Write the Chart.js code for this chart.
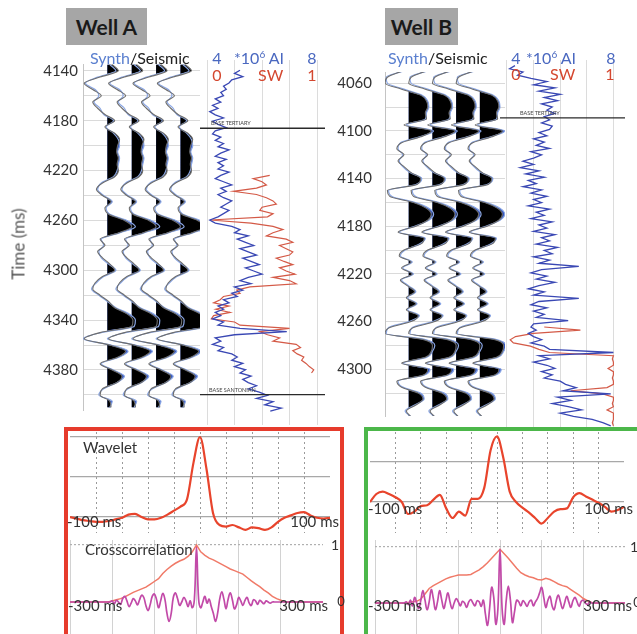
<!DOCTYPE html>
<html>
<head>
<meta charset="utf-8">
<script src="https://cdn.jsdelivr.net/npm/chart.js@4.4.1/dist/chart.umd.min.js"></script>
<style>
  body { margin: 0; width: 637px; height: 634px; overflow: hidden; position: relative; background: #fff; font-family: Lato, "Open Sans", sans-serif; }
  canvas, .txt, .box { position: absolute; }
  .txt { line-height: 1; white-space: nowrap; color: #333; }
  .box { box-sizing: border-box; background: #fff; }
  .well { position: absolute; background: #a6a6a6; font-weight: bold; font-size: 21px; color: #1a1a1a; display: flex; align-items: center; justify-content: center; }
</style>
</head>
<body>
<script>
// ---------- Well A : seismic / synthetic traces (5 ms samples) ----------
const seisStep = 5;
const seisStartA = 4135;
const seismicA = [
  0.2, 0.45, -0.3, -0.95, -0.6, -0.25, -0.6, -0.4, -0.1, 0.3,    // 4135
  -0.1, 0.3, 0.5, 0.42, 0.38, 0.45, 0.4, 0.45, 0.3, -0.2,       // 4185
  -0.45, -0.2, 0.15, -0.1, 0.05, 0.7, 1.0, 0.45, -0.3, -0.1,    // 4235
  -0.4, -0.2, 0.1, 0.3, -0.2, -0.5, -0.6, -0.3, 0.05, 0.3,      // 4285
  0.8, 1.05, 1.0, -0.3, -0.95, 0.1, 0.75, 0.4, -0.3, 0.2,       // 4335
  0.6, 0.4, -0.2, -0.3, 0.1, 0.15                               // 4385
];
const synthA = [
  0.1, 0.35, -0.4, -0.9, -0.5, -0.35, -0.55, -0.3, -0.15, 0.25,
  -0.05, 0.25, 0.45, 0.5, 0.42, 0.5, 0.45, 0.4, 0.25, -0.25,
  -0.4, -0.15, 0.2, -0.05, 0.1, 0.8, 1.15, 0.5, -0.25, -0.15,
  -0.35, -0.25, 0.05, 0.35, -0.15, -0.45, -0.65, -0.35, 0.0, 0.35,
  0.9, 1.15, 1.1, -0.25, -1.0, 0.15, 0.85, 0.45, -0.25, 0.25,
  0.7, 0.4, -0.15, -0.35, 0.2, 0.1
];
const gridTimesA = [4140, 4160, 4180, 4200, 4220, 4240, 4260, 4280, 4300, 4320, 4340, 4360, 4380, 4400];
const tickTimesA = [4140, 4180, 4220, 4260, 4300, 4340, 4380];

// ---------- Well A : logs (2.5 ms samples) ----------
const logStep = 2.5;
const aiStartA = 4142.5;
const aiA = [
  5.2, 5.0, 5.3, 4.9, 4.8, 4.6, 4.7, 4.5, 4.6, 4.3,
  4.5, 4.2, 4.4, 4.1, 4.3, 4.6, 4.2, 4.4, 4.7, 4.3,
  4.2, 4.5, 4.3, 4.6, 4.4, 4.8, 4.5, 4.3, 4.7, 4.4,
  4.6, 4.4, 4.8, 4.5, 4.3, 4.6, 4.9, 4.5, 4.7, 4.4,
  4.6, 4.9, 4.7, 4.5, 4.8, 4.6, 4.4, 4.1, 4.3, 4.9,
  5.2, 5.0, 5.5, 5.1, 5.4, 5.7, 5.2, 5.5, 5.8, 5.3,
  5.6, 5.9, 5.4, 5.7, 6.0, 5.5, 5.2, 5.6, 5.0, 5.3,
  4.9, 5.1, 4.6, 4.8, 4.4, 4.6, 4.3, 4.5, 4.2, 4.6,
  4.4, 5.2, 6.9, 5.0, 4.3, 4.5, 4.2, 4.6, 4.4, 4.9,
  5.1, 4.9, 5.3, 5.0, 5.4, 5.2, 5.6, 5.3, 5.5, 5.8,
  5.5, 5.9, 6.2, 5.8, 6.4, 6.1, 6.7, 6.3
];
const swStartA = 4225;
const swA = [
  0.57, 0.42, 0.5, 0.54, 0.45, 0.24, 0.45, 0.54, 0.6, 0.63,
  0.5, 0.48, 0.6, 0.55, 0.03, 0.4, 0.6, 0.69, 0.6, 0.54,
  0.72, 0.78, 0.66, 0.72, 0.78, 0.75, 0.63, 0.7, 0.78, 0.66,
  0.72, 0.8, 0.6, 0.75, 0.81, 0.39, 0.27, 0.3, 0.15, 0.12,
  0.06, 0.2, 0.08, 0.21, 0.06, 0.04, 0.25, 0.3, 0.75, 0.48,
  0.55, 0.66, 0.6, 0.81, 0.85, 0.78, 0.82, 0.88, 0.86, 0.9,
  0.93, 0.97, 0.95
];
const topsA = [4188, 4397];
const topNamesA = ['BASE TERTIARY', 'BASE SANTONIAN'];

// ---------- Well B : seismic / synthetic traces ----------
const seisStartB = 4050;
const seismicB = [
  -0.3, -0.9, -1.0, -0.3, 0.5, 0.75, 0.8, 0.7, 0.75, -0.2,     // 4050
  0.95, 0.5, -0.3, -0.5, -0.2, -0.45, -0.2, 0.1, 0.5, 0.35,    // 4100
  -0.9, -0.8, 0.2, 0.75, 0.95, 0.8, 0.3, -0.45, 0.65, 0.5,     // 4150
  -0.2, -0.4, 0.1, -0.3, 0.15, -0.35, -0.05, 0.25, -0.1, 0.3,  // 4200
  -0.1, 0.4, 0.1, -0.8, -1.0, 0.6, 1.0, 0.95, 0.7, -0.3,       // 4250
  0.8, 0.6, -0.5, -0.3, 0.4, 0.6, 0.3, -0.1, 0.1               // 4300
];
const synthB = [
  -0.25, -0.95, -0.9, -0.2, 0.55, 0.8, 0.85, 0.75, 0.7, -0.1,
  1.05, 0.45, -0.35, -0.45, -0.25, -0.4, -0.25, 0.05, 0.55, 0.3,
  -0.85, -0.7, 0.25, 0.85, 1.05, 0.85, 0.25, -0.4, 0.7, 0.45,
  -0.15, -0.35, 0.15, -0.25, 0.2, -0.3, 0.0, 0.3, -0.05, 0.35,
  -0.05, 0.45, 0.0, -0.85, -0.95, 0.7, 1.1, 1.0, 0.75, -0.25,
  0.9, 0.65, -0.45, -0.25, 0.5, 0.65, 0.25, -0.15, 0.1
];
const gridTimesB = [4060, 4080, 4100, 4120, 4140, 4160, 4180, 4200, 4220, 4240, 4260, 4280, 4300, 4320];
const tickTimesB = [4060, 4100, 4140, 4180, 4220, 4260, 4300];

// ---------- Well B : logs ----------
const aiStartB = 4055;
const aiB = [
  4.3, 4.1, 4.6, 4.4, 4.9, 5.5, 5.0, 5.8, 5.2, 6.0,
  5.4, 5.9, 5.3, 5.7, 5.5, 5.8, 5.4, 5.6, 5.3, 5.7,
  5.6, 5.2, 5.5, 5.0, 5.4, 5.1, 5.6, 4.9, 5.3, 5.0,
  4.6, 5.0, 4.5, 5.2, 4.7, 5.4, 4.8, 5.1, 4.6, 5.3,
  4.9, 5.5, 5.0, 5.3, 4.8, 5.6, 5.1, 5.4, 4.9, 5.7,
  5.2, 5.5, 5.0, 5.8, 5.3, 5.6, 5.1, 5.9, 5.4, 5.7,
  5.0, 5.6, 5.2, 6.7, 5.3, 4.9, 5.5, 5.1, 5.8, 5.2,
  4.8, 5.4, 5.0, 6.7, 5.2, 4.9, 5.5, 5.0, 5.4, 5.1,
  6.3, 5.0, 4.9, 5.1, 4.8, 5.0, 5.3, 4.9, 5.4, 5.6,
  8.0, 5.2, 5.6, 5.0, 5.5, 5.8, 5.3, 5.7, 5.4, 6.0,
  6.2, 6.6, 6.1, 7.9, 5.9, 6.4, 5.7, 6.3, 6.8, 6.0,
  6.5, 7.2, 7.6, 7.9
];
const swStartB = 4260;
const swB = [
  0.35, 0.69, 0.25, 0.08, 0.03, 0.06, 0.22, 0.3, 0.4, 1.0,
  0.99, 1.0, 1.0, 0.95, 1.0, 1.0, 0.99, 1.0, 1.0, 0.94,
  0.6, 0.9, 1.0, 1.0, 0.99, 1.0, 0.94, 1.0, 1.0, 1.0,
  0.99, 1.0
];
const topsB = [4096];
const topNamesB = ['BASE TERTIARY'];

// trace positions (in trace-spacing units)
const traceBase = [1, 2, 3, 4];

// ---------- Wavelets (5 ms samples, -100..100 ms) ----------
const waveLag0 = -100, waveStep = 5;
const waveletA = [
  0.0, -0.02, -0.04, -0.05, -0.06, -0.06, -0.05, -0.03, -0.01, 0.03,
  0.04, 0.0, -0.03, -0.03, -0.01, 0.03, 0.08, 0.13, 0.22, 0.68,
  1.0, 0.6, 0.05, -0.1, -0.12, -0.1, -0.13, -0.16, -0.13, -0.14,
  -0.16, -0.13, -0.06, -0.01, 0.02, 0.05, 0.06, 0.02, -0.01, -0.02,
  -0.01
];
const waveletB = [
  0.0, 0.1, 0.13, 0.1, 0.06, 0.0, -0.15, -0.12, -0.05, -0.04,
  0.03, 0.09, -0.08, -0.2, -0.12, -0.17, 0.04, 0.04, 0.18, 0.65,
  0.82, 0.55, 0.13, 0.0, -0.07, -0.13, -0.2, -0.27, -0.2, -0.12,
  -0.09, -0.08, 0.06, 0.11, 0.07, 0.03, -0.01, -0.06, -0.12, -0.1,
  -0.06
];

// ---------- Crosscorrelation (-300..300 ms) ----------
const envLag0 = -300, envStep = 10;
const envelopeA = [
  0, 0, 0, 0, 0, 0, 0, 0, 0, 0,
  0.02, 0.04, 0.06, 0.09, 0.13, 0.17, 0.2, 0.23, 0.26, 0.31,
  0.36, 0.41, 0.5, 0.57, 0.63, 0.68, 0.72, 0.75, 0.8, 0.88,
  1.0, 0.88, 0.82, 0.77, 0.74, 0.7, 0.66, 0.62, 0.58, 0.55,
  0.52, 0.49, 0.43, 0.37, 0.32, 0.27, 0.21, 0.16, 0.1, 0.06,
  0.03, 0, 0, 0, 0, 0, 0, 0, 0, 0,
  0
];
const envelopeB = [
  0, 0, 0, 0, 0, 0, 0, 0, 0.01, 0.02,
  0.03, 0.07, 0.16, 0.26, 0.31, 0.35, 0.39, 0.43, 0.46, 0.48,
  0.5, 0.5, 0.5, 0.51, 0.55, 0.59, 0.65, 0.72, 0.8, 0.88,
  0.96, 0.88, 0.8, 0.71, 0.62, 0.54, 0.5, 0.47, 0.45, 0.42,
  0.41, 0.44, 0.42, 0.38, 0.34, 0.31, 0.29, 0.24, 0.19, 0.14,
  0.08, 0.04, 0.01, 0, 0, 0, 0, 0, 0, 0,
  0
];
const ccLag0 = -300, ccStep = 5;
const crossA = [
  0, 0, 0, 0, 0, 0, 0, 0, 0, 0,
  0, 0, 0, 0, 0, 0, 0, 0, 0, 0,
  0.02, -0.03, 0.03, 0.0, -0.04, 0.06, 0.1, 0.02, -0.08, -0.02,
  0.06, 0.02, -0.05, 0.04, 0.12, 0.08, -0.06, -0.15, -0.05, 0.1,
  0.14, 0.05, -0.1, 0.02, 0.15, 0.05, -0.2, -0.34, -0.2, 0.08,
  0.16, 0.06, -0.06, 0.0, 0.08, 0.02, -0.08, 0.02, -0.1, 0.05,
  0.96, 0.05, -0.1, 0.0, 0.1, -0.02, 0.05, -0.08, -0.2, -0.34,
  -0.2, 0.05, 0.18, 0.05, -0.12, 0.05, 0.16, 0.04, -0.12, -0.05,
  0.08, 0.02, -0.06, 0.03, 0.08, -0.02, -0.06, 0.04, 0.02, -0.04,
  0.03, 0.0, -0.03, 0.02, 0.0, -0.02, 0, 0, 0, 0,
  0, 0, 0, 0, 0, 0, 0, 0, 0, 0,
  0, 0, 0, 0, 0, 0, 0, 0, 0, 0,
  0
];
const crossB = [
  0, 0, 0, 0, 0, 0, 0, 0, 0, 0,
  0, 0, 0, 0, 0, 0.02, -0.03, 0.05, -0.05, 0.1,
  0.0, -0.1, 0.05, 0.22, 0.05, -0.12, 0.02, 0.24, 0.08, -0.12,
  0.02, 0.22, 0.06, -0.1, 0.04, 0.18, 0.02, -0.1, 0.0, 0.08,
  0.02, -0.05, 0.03, 0.0, -0.08, 0.02, 0.06, 0.0, -0.05, 0.04,
  0.02, -0.06, 0.05, -0.2, -0.4, -0.1, 0.28, 0.1, -0.38, -0.1,
  0.96, -0.1, -0.38, 0.05, 0.3, 0.05, -0.35, -0.15, 0.05, 0.02,
  -0.05, 0.04, 0.0, -0.06, 0.02, 0.05, -0.05, 0.02, 0.08, 0.18,
  0.28, 0.1, -0.08, 0.05, 0.12, -0.05, -0.12, 0.04, 0.14, 0.02,
  -0.1, 0.0, 0.12, 0.02, -0.08, 0.04, 0.1, 0.02, -0.06, 0.03,
  0.05, 0.0, -0.03, 0.02, 0, 0, 0, 0, 0, 0,
  0, 0, 0, 0, 0, 0, 0, 0, 0, 0,
  0
];

// ---------- helpers ----------
function makeCanvas(left, top, w, h) {
  const c = document.createElement('canvas');
  c.width = w; c.height = h;
  c.style.left = left + 'px'; c.style.top = top + 'px';
  document.body.appendChild(c);
  return c;
}

function txt(html, x, y, size, color, align, extra) {
  const d = document.createElement('div');
  d.className = 'txt';
  d.innerHTML = html;
  d.style.left = x + 'px';
  d.style.top = y + 'px';
  d.style.fontSize = size + 'px';
  if (color) d.style.color = color;
  const tx = align === 'center' ? '-50%' : align === 'right' ? '-100%' : '0';
  d.style.transform = 'translate(' + tx + ', -50%)' + (extra || '');
  document.body.appendChild(d);
  return d;
}

// wiggle line points, time on y
function linePts(amp, t0, base) {
  return amp.map((a, i) => ({ x: base + a, y: t0 + i * seisStep }));
}
// positive half of a wiggle, with the zero crossings put in
function posPts(amp, t0, base) {
  const pts = [];
  amp.forEach((a, i) => {
    const t = t0 + i * seisStep;
    if (i > 0) {
      const p = amp[i - 1];
      if ((p > 0) !== (a > 0) && p !== a) {
        const f = p / (p - a);
        pts.push({ x: base, y: t - seisStep + f * seisStep });
      }
    }
    pts.push({ x: base + Math.max(a, 0), y: t });
  });
  return pts;
}
function logPts(vals, t0) {
  return vals.map((v, i) => ({ x: v, y: t0 + i * logStep }));
}
function lagPts(vals, l0, step) {
  return vals.map((v, i) => ({ x: l0 + i * step, y: v }));
}

const common = {
  responsive: false,
  animation: false,
  events: [],
  plugins: { legend: { display: false }, tooltip: { enabled: false } },
  elements: { point: { radius: 0 } }
};

function wiggleSets(seis, synth, t0) {
  const sets = [];
  traceBase.forEach(b => {
    sets.push({ data: posPts(synth, t0, b), fill: { value: b }, backgroundColor: '#3557c6',
      borderColor: 'rgba(0,0,0,0)', borderWidth: 0, cubicInterpolationMode: 'monotone', order: 4 });
    sets.push({ data: posPts(seis, t0, b), fill: { value: b }, backgroundColor: '#000',
      borderColor: 'rgba(0,0,0,0)', borderWidth: 0, cubicInterpolationMode: 'monotone', order: 3 });
    sets.push({ data: linePts(synth, t0, b), borderColor: '#8aa6e4', borderWidth: 1.2, fill: false,
      cubicInterpolationMode: 'monotone', order: 2 });
    sets.push({ data: linePts(seis, t0, b), borderColor: '#6e6e6e', borderWidth: 1.1, fill: false,
      cubicInterpolationMode: 'monotone', order: 1 });
  });
  return sets;
}

function seismicChart(canvas, seis, synth, t0, yMin, yMax, xMax, gridTimes, tickTimes, axisW, pad) {
  return new Chart(canvas, {
    type: 'line',
    data: { datasets: wiggleSets(seis, synth, t0) },
    options: Object.assign({}, common, {
      indexAxis: 'y',
      layout: { padding: { top: 10, bottom: 10, left: 0, right: 0 }, autoPadding: false },
      scales: {
        x: { type: 'linear', display: false, min: 0, max: xMax },
        y: {
          type: 'linear', reverse: true, min: yMin, max: yMax,
          afterBuildTicks: s => { s.ticks = gridTimes.map(v => ({ value: v })); },
          afterFit: s => { s.width = axisW; },
          grid: { color: '#dadada', drawTicks: false },
          border: { color: '#c4c4c4' },
          ticks: {
            padding: pad, color: '#333',
            font: { family: 'Lato', size: 15 },
            callback: v => tickTimes.includes(v) ? String(v) : ''
          }
        }
      }
    })
  });
}

function logChart(canvas, ai, aiT0, sw, swT0, tops, xMin, xMax, yMin, yMax) {
  const topSets = tops.map(t => ({
    data: [{ x: xMin, y: t }, { x: xMax, y: t }],
    borderColor: '#2a2a2a', borderWidth: 1.4, fill: false, order: 0
  }));
  return new Chart(canvas, {
    type: 'line',
    data: {
      datasets: [
        { data: logPts(ai, aiT0), borderColor: '#3a48b4', borderWidth: 1.3, fill: false, order: 1 },
        { data: logPts(sw, swT0), xAxisID: 'xs', borderColor: '#d45a47', borderWidth: 1.2, fill: false, order: 2 }
      ].concat(topSets)
    },
    options: Object.assign({}, common, {
      indexAxis: 'y',
      layout: { padding: 0, autoPadding: false },
      scales: {
        x: {
          type: 'linear', min: xMin, max: xMax,
          afterBuildTicks: s => { s.ticks = [4, 5, 6, 7, 8].map(v => ({ value: v })); },
          afterFit: s => { s.height = 0; },
          grid: { color: '#dcdcdc', drawTicks: false },
          border: { display: false },
          ticks: { display: false }
        },
        xs: { type: 'linear', display: false, min: (xMin - 4) / 4, max: (xMax - 4) / 4 },
        y: { type: 'linear', display: false, reverse: true, min: yMin, max: yMax }
      }
    })
  });
}

function lagChart(canvas, sets, xMin, xMax, yMin, yMax, xGrid, yGrid, xDash, yDash, xColor, yColor) {
  return new Chart(canvas, {
    type: 'line',
    data: { datasets: sets },
    options: Object.assign({}, common, {
      layout: { padding: 0, autoPadding: false },
      scales: {
        x: {
          type: 'linear', min: xMin, max: xMax,
          afterBuildTicks: s => { s.ticks = xGrid.map(v => ({ value: v })); },
          afterFit: s => { s.height = 0; },
          grid: { color: xColor, drawTicks: false },
          border: { display: false, dash: xDash },
          ticks: { display: false }
        },
        y: {
          type: 'linear', min: yMin, max: yMax,
          afterBuildTicks: s => { s.ticks = yGrid.map(v => ({ value: v })); },
          afterFit: s => { s.width = 0; },
          grid: { color: yColor, drawTicks: false, lineWidth: 1.2 },
          border: { display: false, dash: yDash },
          ticks: { display: false }
        }
      }
    })
  });
}

// ---------- Well charts ----------
seismicChart(makeCanvas(20, 50, 180, 374), seismicA, synthA, seisStartA,
  4134.5, 4412.1, 4.8, gridTimesA, tickTimesA, 63, 5);
logChart(makeCanvas(200, 60, 125, 365), aiA, aiStartA, swA, swStartA, topsA,
  3.745, 8.29, 4134.5, 4420.8);

seismicChart(makeCanvas(320, 50, 185, 388), seismicB, synthB, seisStartB,
  4050.6, 4339.2, 5.06, gridTimesB, tickTimesB, 65, 13);
logChart(makeCanvas(500, 60, 125, 368), aiB, aiStartB, swB, swStartB, topsB,
  3.737, 8.436, 4050.6, 4339.2);

// ---------- wavelet boxes ----------
function box(left, top, w, h, color) {
  const d = document.createElement('div');
  d.className = 'box';
  Object.assign(d.style, { left: left + 'px', top: top + 'px', width: w + 'px', height: h + 'px',
    border: '4px solid ' + color });
  document.body.appendChild(d);
}
box(64, 427, 280, 230, '#e63b2c');
box(364, 427, 300, 230, '#4cb74a');

const waveGrid = [-80, -60, -40, -20, 0, 20, 40, 60, 80];
const ccGrid = [-300, -200, -100, 0, 100, 200, 300];

lagChart(makeCanvas(70, 432, 260, 101),
  [{ data: lagPts(waveletA, waveLag0, waveStep), borderColor: '#e8442c', borderWidth: 2.2, fill: false, cubicInterpolationMode: 'monotone' }],
  -100, 100, -0.2, 1.0625, waveGrid, [0, 0.5, 1], [2, 3], [], '#9a9a9a', '#a8a8a8');
lagChart(makeCanvas(70, 540, 253, 94),
  [{ data: lagPts(crossA, ccLag0, ccStep), borderColor: '#c24aa8', borderWidth: 1.7, fill: false, tension: 0.4, order: 1 },
   { data: lagPts(envelopeA, envLag0, envStep), borderColor: '#f07a68', borderWidth: 1.5, fill: false, order: 2 }],
  -300, 300, -0.561, 1.088, ccGrid, [1], [], [2, 2], '#d2d2d2', '#b0b0b0');

lagChart(makeCanvas(370, 432, 254, 101),
  [{ data: lagPts(waveletB, waveLag0, waveStep), borderColor: '#e8442c', borderWidth: 2.2, fill: false, cubicInterpolationMode: 'monotone' }],
  -100, 100, -0.3875, 0.875, waveGrid, [0, 0.5], [2, 3], [], '#9a9a9a', '#a8a8a8');
lagChart(makeCanvas(375, 540, 250, 94),
  [{ data: lagPts(crossB, ccLag0, ccStep), borderColor: '#c24aa8', borderWidth: 1.7, fill: false, tension: 0.4, order: 1 },
   { data: lagPts(envelopeB, envLag0, envStep), borderColor: '#f07a68', borderWidth: 1.5, fill: false, order: 2 }],
  -300, 300, -0.554, 1.125, ccGrid, [1], [], [2, 2], '#d2d2d2', '#b0b0b0');

// ---------- texts ----------
function wellBox(name, left, top, w, h) {
  const d = document.createElement('div');
  d.className = 'well';
  Object.assign(d.style, { left: left + 'px', top: top + 'px', width: w + 'px', height: h + 'px' });
  d.textContent = name;
  document.body.appendChild(d);
}
wellBox('Well A', 66, 8, 81, 37);
wellBox('Well B', 385, 8, 73, 37);

txt('Time (ms)', 18, 244, 17, '#555', 'center', ' rotate(-90deg)');

const blue = '#4a68c0', red = '#d4472f';
const sup6 = '<span style="font-size:10px;position:relative;top:-6px">6</span>';
txt('<span style="color:#5a7fcf">Synth</span>/Seismic', 90, 58, 16, '#222', 'left');
txt('4', 217, 58, 16, blue, 'center');
txt('*10' + sup6 + ' AI', 234, 58, 16, blue, 'left');
txt('8', 312, 58, 16, blue, 'center');
txt('0', 217, 75, 16, red, 'center');
txt('SW', 258, 75, 16, red, 'left');
txt('1', 312, 75, 16, red, 'center');

txt('<span style="color:#5a7fcf">Synth</span>/Seismic', 388, 58, 16, '#222', 'left');
txt('4', 516, 58, 16, blue, 'center');
txt('*10' + sup6 + ' AI', 526, 58, 16, blue, 'left');
txt('8', 611, 58, 16, blue, 'center');
txt('0', 516, 74, 16, red, 'center');
txt('SW', 550, 74, 16, red, 'left');
txt('1', 610, 74, 16, red, 'center');

txt(topNamesA[0], 211, 124, 5.5, '#444', 'left');
txt(topNamesA[1], 209, 391, 5.5, '#444', 'left');
txt(topNamesB[0], 520, 114, 5.5, '#444', 'left');

txt('Wavelet', 83, 447, 15, '#333', 'left');
txt('-100 ms', 67, 521, 15, '#333', 'left');
txt('100 ms', 339, 521, 15, '#333', 'right');
txt('Crosscorrelation', 85, 549, 15, '#333', 'left');
txt('1', 335, 545, 14, '#333', 'center');
txt('-300 ms', 68, 605, 15, '#333', 'left');
txt('300 ms', 328, 605, 15, '#333', 'right');
txt('0', 341, 601, 13, '#333', 'center');

txt('-100 ms', 368, 508, 15, '#333', 'left');
txt('100 ms', 633, 508, 15, '#333', 'right');
txt('1', 634, 547, 14, '#333', 'center');
txt('-300 ms', 368, 605, 15, '#333', 'left');
txt('300 ms', 632, 605, 15, '#333', 'right');
txt('0', 637, 602, 13, '#333', 'center');
</script>
</body>
</html>
